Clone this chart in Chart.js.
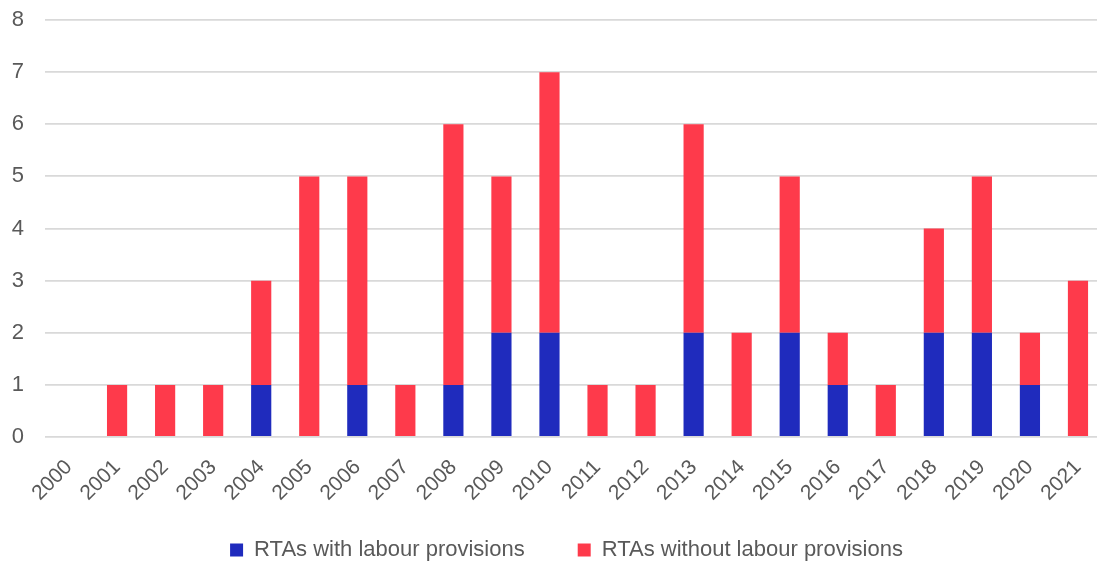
<!DOCTYPE html>
<html>
<head>
<meta charset="utf-8">
<script src="https://cdn.jsdelivr.net/npm/chart.js@4/dist/chart.umd.min.js"></script>
<style>
html,body{margin:0;padding:0;background:#fff;}
#wrap{width:1097px;height:563px;position:relative;}
</style>
</head>
<body>
<div id="wrap"><canvas id="c" width="1097" height="563"></canvas></div>
<script>
const categories = ["2000","2001","2002","2003","2004","2005","2006","2007","2008","2009","2010","2011","2012","2013","2014","2015","2016","2017","2018","2019","2020","2021"];
const withLabour = [0,0,0,0,1,0,1,0,1,2,2,0,0,2,0,2,1,0,2,2,1,0];
const withoutLabour = [0,1,1,1,2,5,4,1,5,3,5,1,1,4,2,3,1,1,2,3,1,3];
const yTicks = [0,1,2,3,4,5,6,7,8];

const FONT = "'Liberation Sans',Arial,sans-serif";
const TXT = '#595959';

// layout tweaks: plot area runs slightly past the right edge (as in the reference),
// legend sits lower and a bit right of centre
const layoutFix = {
  id: 'layoutFix',
  afterLayout(chart) {
    const ca = chart.chartArea;
    ca.right = 1102; ca.width = ca.right - ca.left;
    const x = chart.scales.x;
    x.right = 1102; x.width = x.right - x.left;
    x.bottom = 530; x.height = x.bottom - x.top;
    x.configure(); x._labelItems = null;
    const lg = chart.legend;
    lg.top = 486; lg.bottom = 563; lg.height = lg.bottom - lg.top;
    lg.left += 18; lg.right += 18;
  }
};

new Chart(document.getElementById('c'), {
  type: 'bar',
  data: {
    labels: categories,
    datasets: [
      {label: 'RTAs with labour provisions', data: withLabour, backgroundColor: '#1f2bbd', barPercentage: 0.42, categoryPercentage: 1},
      {label: 'RTAs without labour provisions', data: withoutLabour, backgroundColor: '#fe3a4b', barPercentage: 0.42, categoryPercentage: 1}
    ]
  },
  plugins: [layoutFix],
  options: {
    responsive: false,
    animation: false,
    layout: {padding: {left: 0, right: 0, top: 20, bottom: 0}},
    plugins: {
      legend: {
        position: 'bottom',
        labels: {boxWidth: 13, boxHeight: 13, padding: 53, color: TXT, font: {family: FONT, size: 22}}
      },
      tooltip: {enabled: false}
    },
    scales: {
      x: {
        stacked: true,
        grid: {display: false, drawTicks: false},
        border: {display: false},
        afterFit: s => { s.paddingLeft = 0; s.paddingRight = 0; s.height = 41; },
        ticks: {color: TXT, font: {family: FONT, size: 21}, maxRotation: 45, minRotation: 45, padding: 18}
      },
      y: {
        stacked: true,
        min: 0, max: 8,
        afterBuildTicks: s => { s.ticks = yTicks.map(v => ({value: v})); },
        afterFit: s => { s.width = 45; s.paddingTop = 0; s.paddingBottom = 0; },
        grid: {color: '#d9d9d9', lineWidth: 1.8, drawTicks: false},
        border: {display: false},
        ticks: {color: TXT, font: {family: FONT, size: 22}, padding: 21}
      }
    }
  }
});
</script>
</body>
</html>
